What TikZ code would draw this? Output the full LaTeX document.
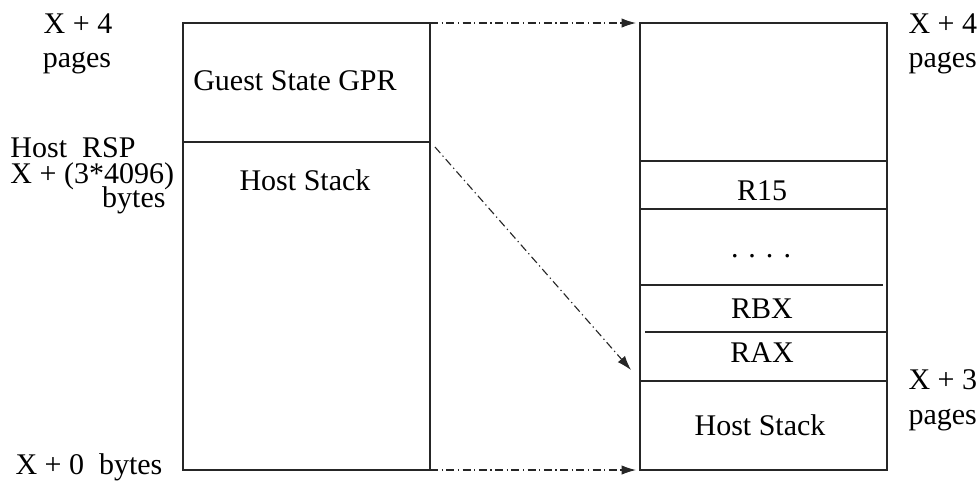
\documentclass[tikz,border=0pt]{standalone}
\usepackage{fontspec}
\setmainfont{Liberation Serif}
\usetikzlibrary{positioning,arrows.meta}

\begin{document}
\begin{tikzpicture}
    [
    x=0.4pt, y=-0.4pt,
    every node/.style={font=\fontsize{12}{14}\selectfont, inner sep=0pt},
    lbl/.style={anchor=base west},
    cell/.style={anchor=base},
    frame/.style={draw=black!85, line width=0.45pt},
    jump/.style={-{Latex[length=5.8pt,width=3.8pt]}, draw=black!85, line width=0.45pt, dash pattern=on 3.2pt off 1.4pt on 0.5pt off 1.4pt},
    ]
    \useasboundingbox (0,0) rectangle (980,483);

    % guest page
    \draw [frame] (183,23) rectangle (430,470);
    \draw [frame] (183,142) -- (430,142);
    \node (gpr) at (295,90) [cell] {Guest State GPR};
    \node (hs1) at (305,190) [cell] {Host Stack};

    % host page
    \draw [frame] (640,23) rectangle (887,470);
    \draw [frame] (640,161) -- (887,161);
    \draw [frame] (640,209) -- (887,209);
    \draw [frame] (640,285) -- (883,285);
    \draw [frame] (645,332) -- (887,332);
    \draw [frame] (640,381) -- (887,381);
    \node (r15) at (762,200) [cell] {R15};
    \node (dots) at (761,257) [cell] {. . . .};
    \node (rbx) at (762,318) [cell] {RBX};
    \node (rax) at (762,362) [cell] {RAX};
    \node (hs2) at (760,435) [cell] {Host Stack};

    % addresses
    \node (x4l) at (78,33) [cell] {X + 4};
    \node (pgl) at (77,67) [cell] {pages};
    \node (rsp) at (10,157) [lbl] {Host\ \ RSP};
    \node (off) at (10,183) [lbl] {X + (3*4096)};
    \node (byt) at (166,207) [anchor=base east] {bytes};
    \node (x0) at (15,474) [lbl] {X + 0\ \ bytes};
    \node (x4r) at (908,33) [lbl] {X + 4};
    \node (pgr) at (908,67) [lbl] {pages};
    \node (x3r) at (908,389) [lbl] {X + 3};
    \node (pg3) at (908,424) [lbl] {pages};

    \coordinate (a1) at (430,23);
    \coordinate (b1) at (636,23);
    \coordinate (a2) at (435,147);
    \coordinate (b2) at (631,370);
    \coordinate (a3) at (430,470);
    \coordinate (b3) at (636,470);
    \draw [jump] (a1) to (b1);
    \draw [jump] (a2) to (b2);
    \draw [jump] (a3) to (b3);
\end{tikzpicture}
\end{document}
